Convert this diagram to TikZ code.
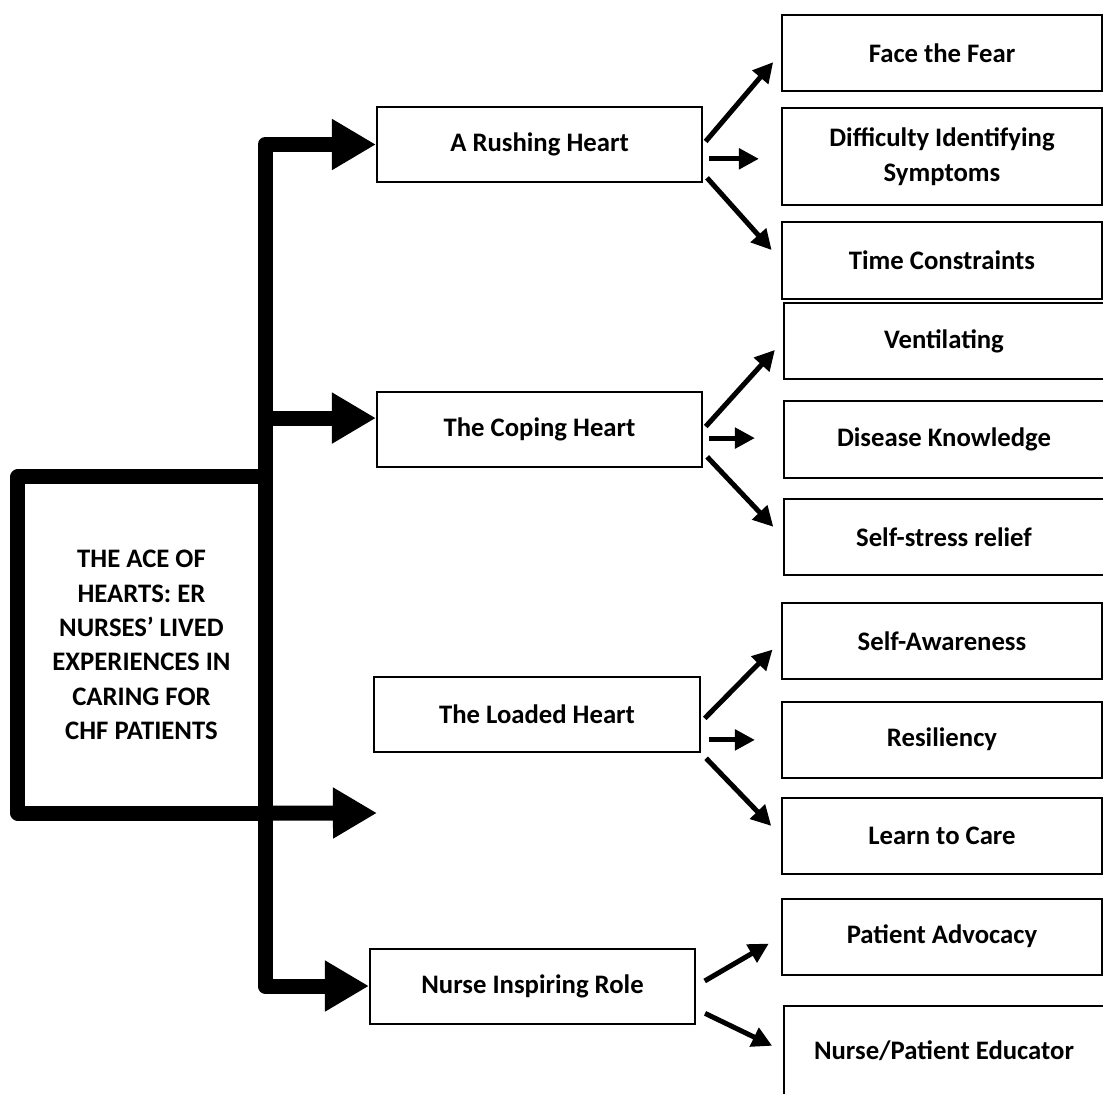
\documentclass[tikz,border=0pt]{standalone}
\usepackage{fontspec}
\setmainfont{Carlito}
\usetikzlibrary{arrows.meta}

\begin{document}
\begin{tikzpicture}[x=0.025cm,y=-0.025cm,
    box/.style={draw,line width=0.05cm,inner sep=0pt,align=center,
      font=\fontsize{19}{25}\selectfont\bfseries},
    theme/.style={box,minimum width=8.125cm,minimum height=1.875cm},
    sub/.style={box,minimum width=8cm,minimum height=1.9cm},
    bigline/.style={line width=0.375cm,line join=round,
      -{Triangle[length=1.1cm,width=1.2cm]}},
    smallarrow/.style={line width=0.125cm,
      -{Triangle[length=0.5cm,width=0.5cm]}}]
        \useasboundingbox (0,0) rectangle (1103,1093);
        \node[box,line width=0.375cm,line join=round,outer sep=0pt,
          minimum width=6.175cm,minimum height=8.4cm,
          font=\fontsize{19}{24.5}\selectfont\bfseries]
          at (141.5,645) (main) {THE ACE OF\\HEARTS: ER\\NURSES' LIVED\\EXPERIENCES IN\\CARING FOR\\CHF PATIENTS};
        \node[theme] at (539.5, 144.5) (rush)  {A Rushing Heart};
        \node[theme] at (539.5, 429.5) (cope)  {The Coping Heart};
        \node[theme] at (537,   714)   (load)  {The Loaded Heart};
        \node[theme] at (532.5, 986)   (nurse) {Nurse Inspiring Role};
        \coordinate (loadtip) at (377,813);
        \node[sub] at (942,  53)   (fear)   {Face the Fear};
        \node[sub,minimum height=2.425cm] at (942, 156.5) (diff) {Difficulty Identifying\\Symptoms};
        \node[sub] at (942, 260.5) (time)   {Time Constraints};
        \node[sub] at (944, 341)   (vent)   {Ventilating};
        \node[sub] at (944, 439.5) (know)   {Disease Knowledge};
        \node[sub] at (944, 537)   (relief) {Self-stress relief};
        \node[sub] at (942, 641)   (aware)  {Self-Awareness};
        \node[sub] at (942, 739.5) (resil)  {Resiliency};
        \node[sub] at (942, 836)   (learn)  {Learn to Care};
        \node[sub] at (942, 936.5) (advoc)  {Patient Advocacy};
        \node[sub,minimum height=2.25cm] at (944, 1051) (educ) {Nurse/Patient Educator};
        % trunk and big arrows
        \draw[bigline] (main.north east) |- (rush.west);
        \draw[bigline] (main.east |- cope.176) -- (cope.176);
        \draw[bigline] (main.south east) -- (loadtip);
        \draw[bigline] (main.south east) |- (nurse.west);
        % small arrows
        \draw[smallarrow,shorten <=0.1cm,shorten >=0.3cm] (rush.east) -- (fear.west);
        \draw[smallarrow,shorten <=0.15cm,shorten >=0.55cm] (rush.-5) -- (rush.-5 -| diff.west);
        \draw[smallarrow,shorten <=0.15cm,shorten >=0.35cm] (rush.-10) -- (time.west);
        \draw[smallarrow,shorten <=0.1cm,shorten >=0.3cm] (cope.east) -- (vent.west);
        \draw[smallarrow,shorten <=0.15cm,shorten >=0.7cm] (cope.-3) -- (cope.-3 -| know.west);
        \draw[smallarrow,shorten <=0.15cm,shorten >=0.35cm] (cope.-8) -- (relief.west);
        \draw[smallarrow,shorten <=0.15cm,shorten >=0.3cm] (load.-3) -- (aware.west);
        \draw[smallarrow,shorten <=0.2cm,shorten >=0.65cm] (load.-9) -- (load.-9 -| resil.west);
        \draw[smallarrow,shorten <=0.2cm,shorten >=0.35cm] (load.south east) -- (learn.west);
        \draw[smallarrow,shorten <=0.25cm,shorten >=0.35cm] (nurse.east) -- (advoc.west);
        \draw[smallarrow,shorten <=0.25cm,shorten >=0.3cm] (nurse.-8) -- (educ.west);
      \end{tikzpicture}
\end{document}
